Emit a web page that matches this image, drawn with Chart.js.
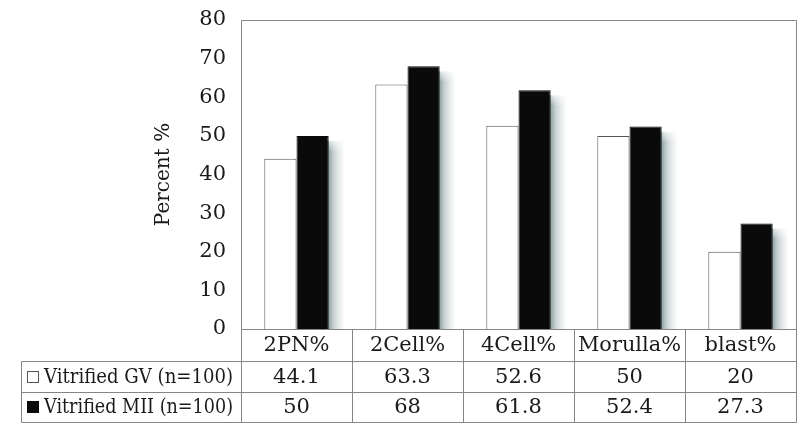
<!DOCTYPE html>
<html>
<head>
<meta charset="utf-8">
<script src="https://cdn.jsdelivr.net/npm/chart.js@4.4.0/dist/chart.umd.min.js"></script>
<style>
  html, body { margin: 0; padding: 0; background: #fff; }
  #wrap { width: 810px; height: 432px; }
</style>
</head>
<body>
<div id="wrap"><canvas id="chart" width="810" height="432"></canvas></div>
<script>
// data
const categories = ['2PN%', '2Cell%', '4Cell%', 'Morulla%', 'blast%'];
const gvValues = [44.1, 63.3, 52.6, 50, 20];
const miiValues = [50, 68, 61.8, 52.4, 27.3];
const gvLabels = ['44.1', '63.3', '52.6', '50', '20'];
const miiLabels = ['50', '68', '61.8', '52.4', '27.3'];
const seriesNames = ['Vitrified GV (n=100)', 'Vitrified MII (n=100)'];
const yTicks = [0, 10, 20, 30, 40, 50, 60, 70, 80];

const FONT = '"DejaVu Serif", "Liberation Serif", serif';
const LINE = '#858585';
const INK = '#1a1a1a';

// soft grey shadow to the right of the black bars (drawn as a fading band)
const shadowPlugin = {
  id: 'barShadow',
  beforeDatasetsDraw(chart) {
    const { ctx, chartArea: a } = chart;
    const meta = chart.getDatasetMeta(1);
    ctx.save();
    ctx.beginPath();
    ctx.rect(a.left, a.top, a.right - a.left, a.bottom - a.top);
    ctx.clip();
    meta.data.forEach(bar => {
      const { x, y, width, base } = bar.getProps(['x', 'y', 'width', 'base'], true);
      const sx = x + width / 2;
      const g = ctx.createLinearGradient(sx - 2, 0, sx + 16, 0);
      g.addColorStop(0, 'rgba(60,90,90,0.7)');
      g.addColorStop(0.4, 'rgba(90,120,120,0.32)');
      g.addColorStop(1, 'rgba(130,150,150,0)');
      ctx.fillStyle = g;
      ctx.fillRect(sx - 2, y + 5, 18, base - y - 5);
      // fade the top edge
      const gt = ctx.createLinearGradient(0, y, 0, y + 16);
      gt.addColorStop(0, 'rgba(255,255,255,1)');
      gt.addColorStop(1, 'rgba(255,255,255,0)');
      ctx.fillStyle = gt;
      ctx.fillRect(sx, y, 18, 16);
    });
    ctx.restore();
  }
};

// frame round the plot + data table underneath
const tablePlugin = {
  id: 'dataTable',
  afterDraw(chart) {
    const { ctx, chartArea: a, scales: { x } } = chart;
    const y0 = a.bottom, y1 = y0 + 32, y2 = y1 + 31, y3 = y2 + 30;
    const tableLeft = 21;

    const edges = [a.left];
    for (let i = 0; i < categories.length - 1; i++) {
      edges.push((x.getPixelForValue(i) + x.getPixelForValue(i + 1)) / 2);
    }
    edges.push(a.right);

    ctx.save();
    ctx.strokeStyle = LINE;
    ctx.lineWidth = 1;
    const px = v => Math.round(v) + 0.5;

    ctx.beginPath();
    // plot frame
    ctx.rect(px(a.left), px(a.top), Math.round(a.right) - Math.round(a.left), Math.round(a.bottom) - Math.round(a.top));
    // horizontal rules
    [y1, y2, y3].forEach(y => {
      ctx.moveTo(tableLeft + 0.5, px(y));
      ctx.lineTo(px(a.right), px(y));
    });
    // verticals
    edges.forEach(ex => {
      ctx.moveTo(px(ex), px(y0));
      ctx.lineTo(px(ex), px(y3));
    });
    ctx.moveTo(tableLeft + 0.5, px(y1));
    ctx.lineTo(tableLeft + 0.5, px(y3));
    ctx.stroke();

    ctx.fillStyle = INK;
    ctx.font = '21px ' + FONT;
    ctx.textAlign = 'center';
    ctx.textBaseline = 'middle';
    categories.forEach((c, i) => {
      const cx = x.getPixelForValue(i);
      ctx.fillText(c, cx, (y0 + y1) / 2 + 1, edges[i + 1] - edges[i] - 8);
      ctx.fillText(gvLabels[i], cx, (y1 + y2) / 2 + 1);
      ctx.fillText(miiLabels[i], cx, (y2 + y3) / 2 + 1);
    });

    // legend keys + series names
    ctx.textAlign = 'left';
    const rows = [(y1 + y2) / 2, (y2 + y3) / 2];
    rows.forEach((ry, r) => {
      ctx.fillStyle = r === 0 ? '#fff' : '#0a0a0a';
      ctx.fillRect(27, Math.round(ry) - 6, 12, 12);
      ctx.strokeStyle = r === 0 ? '#555' : '#0a0a0a';
      ctx.strokeRect(27.5, Math.round(ry) - 5.5, 11, 11);
      ctx.fillStyle = INK;
      ctx.fillText(seriesNames[r], 44, ry + 1, a.left - 52);
    });
    ctx.restore();
  }
};

new Chart(document.getElementById('chart'), {
  type: 'bar',
  data: {
    labels: categories,
    datasets: [
      {
        label: seriesNames[0],
        data: gvValues,
        backgroundColor: '#ffffff',
        borderColor: '#555555',
        borderWidth: 1,
        categoryPercentage: 0.58,
        barPercentage: 1
      },
      {
        label: seriesNames[1],
        data: miiValues,
        backgroundColor: '#0a0a0a',
        borderColor: '#0a0a0a',
        borderWidth: 1,
        categoryPercentage: 0.58,
        barPercentage: 1
      }
    ]
  },
  options: {
    responsive: false,
    animation: false,
    devicePixelRatio: 1,
    layout: { padding: { top: 20, right: 14, bottom: 103, left: 0 } },
    plugins: {
      legend: { display: false },
      tooltip: { enabled: false }
    },
    scales: {
      x: { display: false },
      y: {
        min: 0,
        max: 80,
        afterBuildTicks: scale => { scale.ticks = yTicks.map(v => ({ value: v })); },
        afterFit: scale => {
          scale.width = 241;
          scale.paddingTop = 0;
          scale.paddingBottom = 0;
        },
        grid: { display: false, drawTicks: false },
        border: { display: false },
        ticks: {
          padding: 15,
          color: INK,
          font: { family: FONT, size: 21 }
        },
        title: {
          display: true,
          text: 'Percent %',
          color: INK,
          font: { family: FONT, size: 20 },
          padding: { top: 152, bottom: 0 }
        }
      }
    }
  },
  plugins: [shadowPlugin, tablePlugin]
});
</script>
</body>
</html>
